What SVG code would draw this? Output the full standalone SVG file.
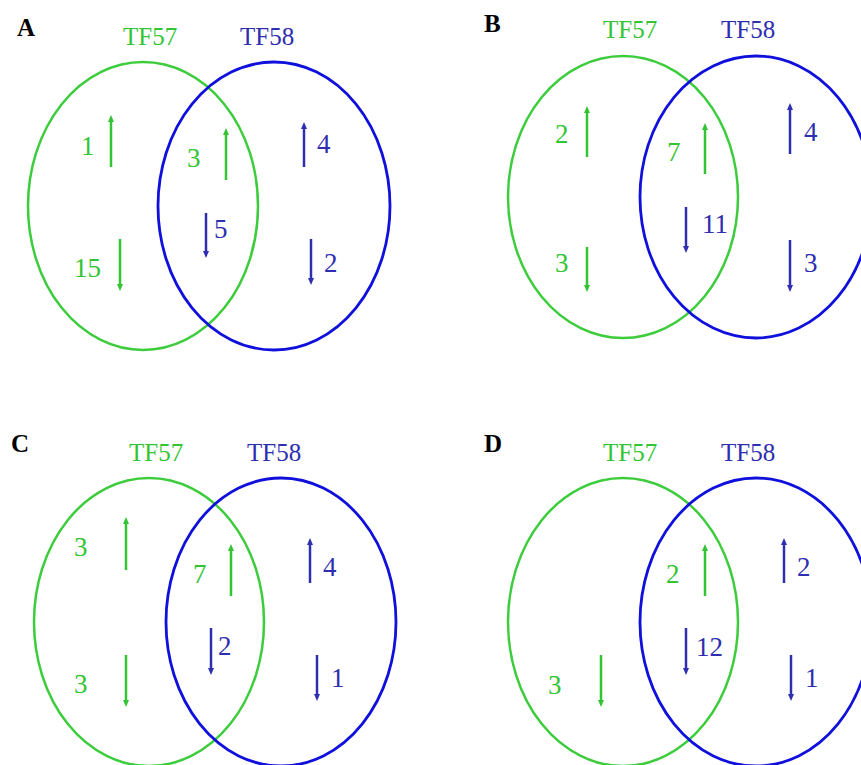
<svg xmlns="http://www.w3.org/2000/svg" width="861" height="765" viewBox="0 0 861 765">
<defs>
<style>
text{font-family:"Liberation Serif","Tinos","Times New Roman","DejaVu Serif",serif}
.g{fill:#33c433}
.b{fill:#2e2eb0}
.t{font-size:25px}
.n{font-size:27px}
.p{font-size:25px;font-weight:bold;fill:#000}
.eg{fill:none;stroke:#3ccc3c;stroke-width:2.5}
.eb{fill:none;stroke:#1010dc;stroke-width:2.8}
.ag{stroke:#33c433;stroke-width:2.5;marker-end:url(#hg)}
.ab{stroke:#2e2eb0;stroke-width:2.5;marker-end:url(#hb)}
</style>
<marker id="hg" viewBox="0 0 7 6" refX="1" refY="3" markerWidth="7" markerHeight="6" markerUnits="userSpaceOnUse" orient="auto"><path d="M0,0 L7,3 L0,6 z" fill="#33c433"/></marker>
<marker id="hb" viewBox="0 0 7 6" refX="1" refY="3" markerWidth="7" markerHeight="6" markerUnits="userSpaceOnUse" orient="auto"><path d="M0,0 L7,3 L0,6 z" fill="#2e2eb0"/></marker>
</defs>
<rect width="861" height="765" fill="#fff"/>

<g id="panelA">
<text class="p" x="17" y="36">A</text>
<g id="A-TF57"><ellipse class="eg" cx="143" cy="206" rx="115" ry="144"/><text class="t g" x="123" y="45">TF57</text></g>
<g id="A-TF58"><ellipse class="eb" cx="274" cy="206" rx="116" ry="144"/><text class="t b" x="240" y="45">TF58</text></g>
<text class="n g" x="81" y="155">1</text>
<text class="n g" x="187" y="167">3</text>
<text class="n g" x="74" y="277">15</text>
<text class="n b" x="214" y="238">5</text>
<text class="n b" x="317" y="153">4</text>
<text class="n b" x="324" y="272">2</text>
</g>

<g id="panelB">
<text class="p" x="484" y="32">B</text>
<g id="B-TF57"><ellipse class="eg" cx="623" cy="197" rx="115" ry="141"/><text class="t g" x="603" y="38">TF57</text></g>
<g id="B-TF58"><ellipse class="eb" cx="756" cy="197" rx="116" ry="141"/><text class="t b" x="721" y="38">TF58</text></g>
<text class="n g" x="555" y="143">2</text>
<text class="n g" x="667" y="161">7</text>
<text class="n b" x="702" y="233">11</text>
<text class="n g" x="555" y="272">3</text>
<text class="n b" x="804" y="141">4</text>
<text class="n b" x="804" y="272">3</text>
</g>

<g id="panelC">
<text class="p" x="11" y="452">C</text>
<g id="C-TF57"><ellipse class="eg" cx="149" cy="622" rx="115" ry="144"/><text class="t g" x="129" y="461">TF57</text></g>
<g id="C-TF58"><ellipse class="eb" cx="281" cy="622" rx="115" ry="144"/><text class="t b" x="247" y="461">TF58</text></g>
<text class="n g" x="74" y="556">3</text>
<text class="n g" x="193" y="583">7</text>
<text class="n b" x="218" y="655">2</text>
<text class="n g" x="74" y="693">3</text>
<text class="n b" x="323" y="576">4</text>
<text class="n b" x="331" y="687">1</text>
</g>

<g id="panelD">
<text class="p" x="484" y="452">D</text>
<g id="D-TF57"><ellipse class="eg" cx="623" cy="622" rx="115" ry="144"/><text class="t g" x="603" y="461">TF57</text></g>
<g id="D-TF58"><ellipse class="eb" cx="756" cy="622" rx="116" ry="144"/><text class="t b" x="721" y="461">TF58</text></g>
<text class="n g" x="666" y="583">2</text>
<text class="n b" x="797" y="576">2</text>
<text class="n b" x="696" y="656">12</text>
<text class="n g" x="548" y="694">3</text>
<text class="n b" x="805" y="687">1</text>
</g>

<g id="connectors">
<line class="ag" x1="111" y1="167" x2="111" y2="121"/>
<line class="ag" x1="226" y1="180" x2="226" y2="134"/>
<line class="ag" x1="120" y1="239" x2="120" y2="285"/>
<line class="ab" x1="206" y1="213" x2="206" y2="252"/>
<line class="ab" x1="304" y1="167" x2="304" y2="128"/>
<line class="ab" x1="311" y1="239" x2="311" y2="279"/>

<line class="ag" x1="587" y1="157" x2="587" y2="112"/>
<line class="ag" x1="705" y1="174" x2="705" y2="129"/>
<line class="ab" x1="686" y1="207" x2="686" y2="247"/>
<line class="ag" x1="587" y1="247" x2="587" y2="286"/>
<line class="ab" x1="790" y1="154" x2="790" y2="109"/>
<line class="ab" x1="790" y1="240" x2="790" y2="286"/>

<line class="ag" x1="126" y1="570" x2="126" y2="523"/>
<line class="ag" x1="231" y1="596" x2="231" y2="550"/>
<line class="ab" x1="211" y1="628" x2="211" y2="669"/>
<line class="ag" x1="126" y1="655" x2="126" y2="701"/>
<line class="ab" x1="310" y1="583" x2="310" y2="544"/>
<line class="ab" x1="317" y1="655" x2="317" y2="695"/>

<line class="ag" x1="705" y1="596" x2="705" y2="550"/>
<line class="ab" x1="784" y1="583" x2="784" y2="544"/>
<line class="ab" x1="686" y1="628" x2="686" y2="669"/>
<line class="ag" x1="601" y1="655" x2="601" y2="701"/>
<line class="ab" x1="791" y1="655" x2="791" y2="695"/>
</g>
</svg>
